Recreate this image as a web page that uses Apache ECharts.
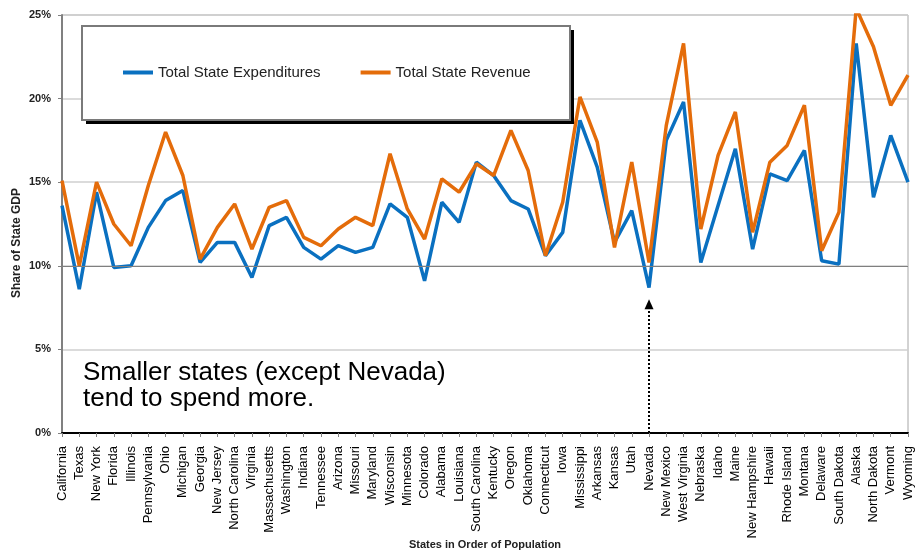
<!DOCTYPE html>
<html>
<head>
<meta charset="utf-8">
<script src="https://cdn.jsdelivr.net/npm/echarts@6/dist/echarts.min.js"></script>
<style>
  html, body { margin: 0; padding: 0; background: #fff; }
</style>
</head>
<body>
<div id="main" style="width:915px;height:550px;"></div>
<script>
// states, largest population first
var states = ['California', 'Texas', 'New York', 'Florida', 'Illinois', 'Pennsylvania', 'Ohio', 'Michigan',
  'Georgia', 'New Jersey', 'North Carolina', 'Virginia', 'Massachusetts', 'Washington', 'Indiana', 'Tennessee',
  'Arizona', 'Missouri', 'Maryland', 'Wisconsin', 'Minnesota', 'Colorado', 'Alabama', 'Louisiana',
  'South Carolina', 'Kentucky', 'Oregon', 'Oklahoma', 'Connecticut', 'Iowa', 'Mississippi', 'Arkansas',
  'Kansas', 'Utah', 'Nevada', 'New Mexico', 'West Virginia', 'Nebraska', 'Idaho', 'Maine',
  'New Hampshire', 'Hawaii', 'Rhode Island', 'Montana', 'Delaware', 'South Dakota', 'Alaska', 'North Dakota',
  'Vermont', 'Wyoming'];

// share of state GDP, percent
var expenditures = [13.6, 8.6, 14.4, 9.9, 10.0, 12.3, 13.9, 14.5,
  10.2, 11.4, 11.4, 9.3, 12.4, 12.9, 11.1, 10.4,
  11.2, 10.8, 11.1, 13.7, 12.9, 9.1, 13.8, 12.6,
  16.2, 15.4, 13.9, 13.4, 10.6, 12.0, 18.7, 15.9,
  11.4, 13.3, 8.7, 17.5, 19.8, 10.2, 13.6, 17.0,
  11.0, 15.5, 15.1, 16.9, 10.3, 10.1, 23.3, 14.1,
  17.8, 15.0];

var revenue = [15.1, 10.0, 15.0, 12.5, 11.2, 14.8, 18.0, 15.4,
  10.4, 12.3, 13.7, 11.0, 13.5, 13.9, 11.7, 11.2,
  12.2, 12.9, 12.4, 16.7, 13.4, 11.6, 15.2, 14.4,
  16.1, 15.4, 18.1, 15.7, 10.6, 13.8, 20.1, 17.4,
  11.1, 16.2, 10.2, 18.4, 23.3, 12.2, 16.6, 19.2,
  12.0, 16.2, 17.2, 19.6, 10.9, 13.2, 25.4, 23.1,
  19.6, 21.4];

var yTicks = [0, 5, 10, 15, 20, 25];
var note = ['Smaller states (except Nevada)', 'tend to spend more.'];

var chart = echarts.init(document.getElementById('main'));

var option = {
  animation: false,
  color: ['#0a70c0', '#e46c0a'],
  grid: {
    left: 62, right: 7, top: 15, bottom: 117,
    outerBoundsMode: 'none',
    containLabel: false,
    show: true, borderColor: '#a6a6a6', borderWidth: 1
  },
  graphic: [
    // legend frame with hard black shadow
    { type: 'rect', z: 90, shape: { x: 86, y: 30, width: 488, height: 94 }, style: { fill: '#000' } },
    { type: 'rect', z: 91, shape: { x: 82, y: 26, width: 488, height: 94 },
      style: { fill: '#fff', stroke: '#7a7a7a', lineWidth: 2 } },
    { type: 'text', z: 95, left: 83, top: 360,
      style: { text: note.join('\n'), font: '26px "Liberation Sans", Arial, sans-serif',
        fill: '#000', lineHeight: 26 } },
    // y axis title
    { type: 'text', z: 95, x: 17, y: 243, rotation: Math.PI / 2,
      style: { text: 'Share of State GDP', font: 'bold 12px Arial, "Liberation Sans", sans-serif',
        fill: '#222', textAlign: 'center', textVerticalAlign: 'middle' } }
  ],
  legend: {
    z: 100,
    left: 123, top: 65, padding: 0,
    itemWidth: 30, itemHeight: 4, itemGap: 40,
    icon: 'rect',
    textStyle: { fontFamily: 'Arial, "Liberation Sans", sans-serif', fontSize: 15, color: '#222' },
    data: ['Total State Expenditures', 'Total State Revenue']
  },
  xAxis: {
    type: 'category',
    data: states,
    boundaryGap: false,
    name: 'States in Order of Population',
    nameLocation: 'middle',
    nameGap: 106,
    nameMoveOverlap: false,
    nameTextStyle: { fontFamily: 'Arial, sans-serif', fontSize: 11, fontWeight: 'bold', color: '#222' },
    axisLine: { lineStyle: { color: '#000', width: 2 } },
    axisTick: { show: true, length: 4, alignWithLabel: true, lineStyle: { color: '#808080' } },
    axisLabel: {
      interval: 0, rotate: 90, margin: 13,
      fontFamily: 'Arial, "Liberation Sans", sans-serif', fontSize: 13, color: '#000'
    },
    splitLine: { show: false }
  },
  yAxis: {
    type: 'value',
    min: yTicks[0], max: yTicks[yTicks.length - 1], interval: 5,
    axisLine: { show: true, lineStyle: { color: '#808080', width: 2 } },
    axisTick: { show: true, length: 4, lineStyle: { color: '#808080' } },
    axisLabel: {
      formatter: '{value}%', margin: 11,
      fontFamily: 'Arial, sans-serif', fontSize: 11, fontWeight: 'bold', color: '#222'
    },
    splitLine: { lineStyle: { color: '#cfcfcf', width: 1.5 } }
  },
  series: [
    {
      name: 'Total State Expenditures',
      type: 'line',
      data: expenditures,
      symbol: 'none',
      lineStyle: { width: 3.5 },
      markLine: {
        silent: true, symbol: 'none', label: { show: false },
        lineStyle: { color: '#7f7f7f', width: 1, type: 'solid' },
        data: [{ yAxis: 10 }]
      }
    },
    {
      name: 'Total State Revenue',
      type: 'line',
      data: revenue,
      symbol: 'none',
      lineStyle: { width: 3.5 },
      markLine: {
        silent: true,
        symbol: ['none', 'triangle'],
        symbolSize: [9, 10],
        label: { show: false },
        lineStyle: { color: '#000', width: 2, type: 'dotted' },
        data: [[{ coord: ['Nevada', 0] }, { coord: ['Nevada', 7.7] }]]
      }
    }
  ]
};

chart.setOption(option);
</script>
</body>
</html>
